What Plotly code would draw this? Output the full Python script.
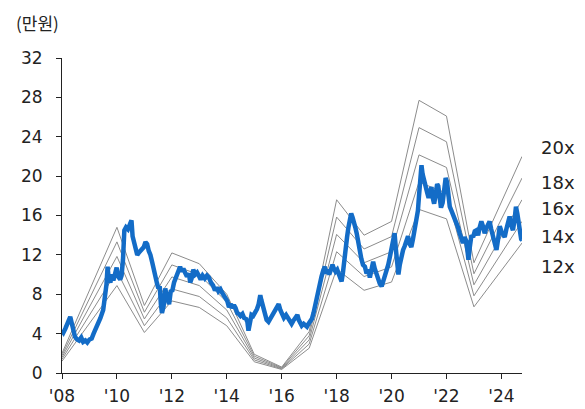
import plotly.graph_objects as go

# 주가 (만원), 소수 연도 기준
price_t = [
    2008.00, 2008.05, 2008.12, 2008.22, 2008.30, 2008.36, 2008.42, 2008.47, 2008.55, 2008.62,
    2008.70, 2008.77, 2008.85, 2008.92, 2009.00, 2009.08, 2009.15, 2009.22, 2009.32, 2009.40,
    2009.50, 2009.56, 2009.62, 2009.66, 2009.70, 2009.76, 2009.82, 2009.87, 2009.93, 2009.99,
    2010.05, 2010.12, 2010.17, 2010.22, 2010.27, 2010.33, 2010.40, 2010.46, 2010.53, 2010.57,
    2010.62, 2010.68, 2010.74, 2010.82, 2010.90, 2010.98, 2011.04, 2011.10, 2011.16, 2011.22,
    2011.28, 2011.34, 2011.40, 2011.46, 2011.51, 2011.56, 2011.60, 2011.64, 2011.70, 2011.76,
    2011.80, 2011.85, 2011.90, 2011.96, 2012.02, 2012.08, 2012.14, 2012.20, 2012.26, 2012.30,
    2012.36, 2012.42, 2012.48, 2012.55, 2012.62, 2012.67, 2012.72, 2012.78, 2012.85, 2012.92,
    2012.98, 2013.05, 2013.12, 2013.20, 2013.28, 2013.35, 2013.42, 2013.50, 2013.57, 2013.64,
    2013.70, 2013.77, 2013.82, 2013.90, 2013.96, 2014.02, 2014.08, 2014.15, 2014.20, 2014.26,
    2014.32, 2014.38, 2014.44, 2014.50, 2014.57, 2014.63, 2014.70, 2014.75, 2014.79, 2014.84,
    2014.90, 2014.96, 2015.03, 2015.10, 2015.16, 2015.22, 2015.26, 2015.32, 2015.38, 2015.45,
    2015.52, 2015.58, 2015.64, 2015.70, 2015.76, 2015.82, 2015.89, 2015.95, 2016.02, 2016.08,
    2016.16, 2016.24, 2016.30, 2016.36, 2016.42, 2016.50, 2016.57, 2016.62, 2016.68, 2016.73,
    2016.80, 2016.86, 2016.92, 2016.98, 2017.05, 2017.10, 2017.16, 2017.21, 2017.27, 2017.33,
    2017.39, 2017.45, 2017.51, 2017.57, 2017.62, 2017.68, 2017.73, 2017.79, 2017.85, 2017.90,
    2017.96, 2018.02, 2018.08, 2018.13, 2018.18, 2018.23, 2018.28, 2018.33, 2018.38, 2018.43,
    2018.48, 2018.53, 2018.58, 2018.63, 2018.68, 2018.73, 2018.78, 2018.84, 2018.90, 2018.96,
    2019.03, 2019.09, 2019.15, 2019.21, 2019.27, 2019.33, 2019.39, 2019.45, 2019.51, 2019.57,
    2019.64, 2019.70, 2019.76, 2019.82, 2019.88, 2019.94, 2020.00, 2020.06, 2020.11, 2020.16,
    2020.21, 2020.25, 2020.30, 2020.36, 2020.42, 2020.48, 2020.54, 2020.60, 2020.66, 2020.72,
    2020.78, 2020.84, 2020.90, 2020.96, 2021.00, 2021.05, 2021.09, 2021.13, 2021.18, 2021.24,
    2021.30, 2021.35, 2021.40, 2021.45, 2021.50, 2021.55, 2021.60, 2021.66, 2021.70, 2021.75,
    2021.80, 2021.86, 2021.92, 2021.97, 2022.02, 2022.07, 2022.12, 2022.18, 2022.24, 2022.30,
    2022.36, 2022.42, 2022.48, 2022.54, 2022.60, 2022.66, 2022.72, 2022.77, 2022.80, 2022.85,
    2022.91, 2022.97, 2023.03, 2023.09, 2023.15, 2023.21, 2023.27, 2023.33, 2023.39, 2023.45,
    2023.51, 2023.57, 2023.63, 2023.70, 2023.76, 2023.82, 2023.88, 2023.94, 2024.00, 2024.06,
    2024.12, 2024.18, 2024.24, 2024.30, 2024.36, 2024.42, 2024.48, 2024.53, 2024.58, 2024.63,
    2024.67, 2024.72, 2024.76,
]
price_v = [
    4.3, 4.1, 4.5, 5.3, 5.7, 5.0, 4.2, 3.7, 3.4, 3.3,
    3.6, 3.15, 3.3, 3.1, 3.4, 3.5, 4.0, 4.4, 5.1, 5.6,
    6.4, 7.5, 9.0, 10.8, 9.6, 9.2, 10.0, 9.4, 10.2, 10.7,
    9.8, 9.5, 9.9, 11.5, 14.5, 14.8, 14.6, 15.2, 15.5, 13.9,
    13.2, 12.4, 12.0, 12.3, 12.6, 12.8, 13.3, 13.1, 12.4, 12.0,
    11.3, 10.5, 9.5, 9.1, 8.6, 8.8, 7.0, 6.1, 6.8, 8.6,
    8.0, 7.3, 7.0, 8.3, 8.4, 9.2, 9.7, 10.2, 10.5, 10.8,
    10.3, 10.6, 10.2, 9.8, 10.1, 9.2, 9.6, 10.5, 10.0, 10.2,
    9.9, 9.5, 9.9, 9.6, 9.9, 9.7, 9.2, 8.9, 8.4, 8.7,
    8.3, 8.5, 8.2, 7.8, 7.5, 7.3, 6.7, 7.0, 6.6, 6.9,
    6.6, 6.1, 6.0, 5.8, 6.0, 5.6, 5.5, 5.2, 4.3, 5.0,
    5.9, 5.8, 6.1, 6.5, 7.0, 7.9, 7.4, 6.6, 6.0, 5.4,
    5.2, 5.5, 5.9, 6.2, 6.5, 6.8, 7.0, 6.4, 5.8, 5.6,
    5.9, 5.6, 5.3, 5.0, 5.3, 5.6, 5.9, 5.4, 5.1, 4.8,
    5.0, 4.8, 4.7, 5.0, 5.2, 5.5, 6.1, 6.8, 7.6, 8.4,
    9.2, 9.8, 10.4, 10.8, 10.1, 10.5, 10.0, 10.6, 11.0, 10.6,
    10.3, 10.5, 10.1, 9.6, 9.3, 10.2, 11.8, 12.6, 13.8, 14.8,
    15.6, 16.2, 15.8, 15.0, 14.8, 14.2, 13.2, 12.2, 11.6, 11.0,
    10.8, 10.1, 10.5, 9.7, 10.8, 11.3, 10.6, 10.1, 9.4, 9.1,
    8.8, 9.3, 9.8, 10.2, 11.0, 11.8, 12.6, 13.5, 14.2, 12.5,
    10.8, 10.0, 11.0, 11.9, 12.5, 12.9, 13.4, 13.9, 13.1, 12.8,
    13.6, 14.5, 15.1, 16.5, 18.0, 19.8, 21.1, 20.2, 19.5, 19.2,
    18.3, 17.8, 18.7, 18.9, 17.8, 17.2, 18.0, 19.2, 19.0, 18.0,
    16.8, 17.3, 18.5, 19.8, 19.4, 18.0, 16.9, 16.5, 16.1, 15.8,
    15.4, 14.8, 14.2, 13.6, 13.2, 13.8, 13.4, 12.3, 11.5, 12.8,
    14.0, 13.8, 14.4, 14.5, 14.0, 14.8, 15.4, 14.9, 14.2, 14.7,
    15.1, 15.4, 14.6, 13.8, 13.2, 12.5, 13.6, 14.9, 14.4, 14.0,
    13.8, 14.6, 15.3, 15.9, 15.0, 14.5, 15.6, 16.9, 16.2, 15.0,
    14.5, 13.6, 13.5,
]

# 주당순이익 (만원)과 PER 배수
eps_t = [2008.0, 2010.0, 2011.0, 2012.0, 2013.0, 2014.0, 2015.0, 2016.0, 2017.0,
         2018.0, 2019.0, 2020.0, 2021.0, 2022.0, 2023.0, 2024.75]
eps_v = [0.10, 0.74, 0.343, 0.61, 0.555, 0.40, 0.095, 0.03, 0.21,
         0.88, 0.70, 0.77, 1.385, 1.305, 0.56, 1.10]
multiples = [12, 14, 16, 18, 20]

tick_vals = [2008, 2010, 2012, 2014, 2016, 2018, 2020, 2022, 2024]
tick_text = ["'08", "'10", "'12", "'14", "'16", "'18", "'20", "'22", "'24"]

# 오른쪽 배수 라벨의 화면 y 위치(px)
label_y = [266.7, 236, 208.3, 182.3, 147.3]

FONT = "DejaVu Sans"
KFONT = "Noto Sans CJK KR"

# 페이지 body 여백(8px) 보정
OFF = 8
PL, PT, PW, PH = 61.7, 58.3, 460.6, 314.4

fig = go.Figure()

for m in multiples:
    fig.add_trace(go.Scatter(
        x=eps_t, y=[e * m for e in eps_v],
        mode="lines", line=dict(color="#8c8c8c", width=1),
        hoverinfo="skip", showlegend=False,
    ))

fig.add_trace(go.Scatter(
    x=price_t, y=price_v, mode="lines",
    line=dict(color="#136cc7", width=4.5),
    showlegend=False,
))

for m, py in zip(multiples, label_y):
    fig.add_annotation(
        xref="paper", yref="paper",
        x=(539 - PL) / PW, y=(PT + PH - py) / PH,
        xanchor="left", yanchor="middle",
        text=f"{m}x", showarrow=False,
        font=dict(family=FONT, size=18, color="#222"),
    )

fig.add_annotation(
    xref="paper", yref="paper",
    x=(14 - PL) / PW, y=(PT + PH - OFF) / PH,
    xanchor="left", yanchor="top",
    text="(만원)", showarrow=False,
    font=dict(family=KFONT, size=17, color="#222"),
)

fig.update_layout(
    width=585 - OFF, height=409 - OFF,
    margin=dict(l=PL - OFF, r=585 - PL - PW, t=PT - OFF, b=409 - PT - PH),
    paper_bgcolor="white", plot_bgcolor="white",
    font=dict(family=FONT, size=17, color="#222"),
    xaxis=dict(
        range=[2008, 2024.75],
        tickvals=tick_vals, ticktext=tick_text,
        showline=True, linecolor="#222", linewidth=1,
        ticks="outside", ticklen=5, tickcolor="#222",
        ticklabelstandoff=3,
        showgrid=False, zeroline=False, automargin=False,
    ),
    yaxis=dict(
        range=[0, 32], dtick=4,
        showline=True, linecolor="#222", linewidth=1,
        ticks="outside", ticklen=5, tickcolor="#222",
        ticklabelstandoff=10,
        showgrid=False, zeroline=False, automargin=False,
    ),
)

fig.write_html("out.html")
